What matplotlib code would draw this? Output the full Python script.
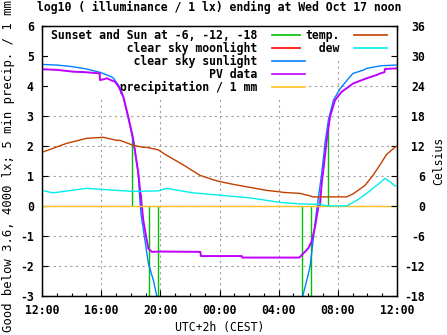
import matplotlib
matplotlib.use("Agg")
import matplotlib.pyplot as plt
from matplotlib.lines import Line2D

plt.rcParams['font.family'] = ['DejaVu Sans Mono']
plt.rcParams['font.weight'] = 'bold'
plt.rcParams['font.size'] = 8.3
plt.rcParams['axes.unicode_minus'] = False

# ---- data (hours after Tue 12:00) ----
x_ticks_h = [0, 4, 8, 12, 16, 20, 24]
x_tick_labels = ["12:00", "16:00", "20:00", "00:00", "04:00", "08:00", "12:00"]
y_left_ticks = [-3, -2, -1, 0, 1, 2, 3, 4, 5, 6]
y_right_ticks = [-18, -12, -6, 0, 6, 12, 18, 24, 30, 36]

# Sunset and Sun at -6, -12, -18 (impulses)
sun_t = [6.09, 6.69, 7.23, 7.84, 17.58, 18.19, 18.80, 19.34]
sun_h = [2.45, 0.40, -4.0, -4.0, -4.0, -4.0, 0.40, 2.60]

# clear sky moonlight (below plotted range, not visible)
moon_t = []
moon_v = []

# clear sky sunlight, evening
sunE_t = [0, 1, 2, 3, 3.9, 4.5, 4.8, 5.2, 5.5, 5.84, 6.17, 6.51, 6.6, 6.7,
          6.96, 7.19, 7.53, 7.76, 8.0]
sunE_v = [4.71, 4.69, 4.64, 4.56, 4.45, 4.34, 4.27, 4.0, 3.63, 2.91, 2.19, 1.08,
          0.3, -0.3, -1.14, -1.91, -2.48, -3.0, -3.5]
# clear sky sunlight, morning
sunM_t = [17.4, 17.63, 17.9, 18.12, 18.28, 18.46, 18.57, 18.91, 19.13, 19.36,
          19.70, 20.15, 20.82, 21.02, 21.72, 21.95, 22.85, 23.06, 24.0]
sunM_v = [-3.5, -3.0, -2.48, -2.03, -1.37, -0.58, -0.14, 1.08, 2.08, 2.86,
          3.52, 3.9, 4.3, 4.41, 4.52, 4.58, 4.66, 4.67, 4.69]

# PV data
pv_t = [0, 1, 2.1, 3.0, 3.9, 3.92, 4.2, 4.4, 4.6, 4.95, 5.2, 5.5, 5.84, 6.17,
        6.51, 6.7, 6.85, 7.08, 7.19, 7.42, 8.0, 10.7, 10.75, 13.5, 13.55, 17.4,
        17.55, 17.99, 18.22, 18.46, 18.68, 18.8, 18.92, 19.02, 19.25, 19.47,
        19.81, 20.26, 21.05, 21.95, 22.63, 22.85, 23.15, 23.19, 24.0]
pv_v = [4.55, 4.53, 4.47, 4.45, 4.41, 4.19, 4.22, 4.25, 4.2, 4.13, 3.95, 3.63,
        2.95, 2.2, 1.1, 0.2, -0.48, -1.14, -1.42, -1.53, -1.52, -1.53, -1.67,
        -1.67, -1.72, -1.72, -1.64, -1.42, -1.2, -0.7, -0.03, 0.1, 0.8, 1.19,
        2.19, 2.97, 3.52, 3.8, 4.08, 4.25, 4.36, 4.41, 4.45, 4.56, 4.58]

# precipitation / 1 mm
precip_t = [0, 24]
precip_v = [0, 0]

# temperature (Celsius)
temp_t = [0.09, 1.67, 3.02, 4.14, 5.05, 5.27, 6.17, 6.85, 7.08, 7.86, 8.43,
          9.55, 10.68, 11.81, 12.93, 14.06, 15.19, 16.1, 16.3, 17.44, 18.12,
          18.3, 20.6, 21.03, 21.84, 22.4, 22.85, 23.3, 23.98]
temp_c = [10.8, 12.5, 13.5, 13.7, 13.1, 13.1, 12.1, 11.7, 11.7, 11.2, 10.1,
          8.2, 6.1, 5.0, 4.3, 3.7, 3.1, 2.8, 2.7, 2.5, 2.0, 1.8, 1.8, 2.4,
          4.1, 6.2, 8.2, 10.3, 12.0]

# dew point (Celsius)
dew_t = [0, 0.74, 3.0, 5.05, 6.17, 7.86, 8.43, 10.23, 11.81, 14.06, 16.09,
         17.44, 18.8, 19.3, 20.6, 21.28, 21.95, 22.63, 23.19, 23.53, 23.87, 24.0]
dew_c = [3.1, 2.6, 3.5, 3.1, 2.9, 3.0, 3.5, 2.6, 2.2, 1.6, 0.7, 0.4, 0.3,
         0.0, 0.0, 1.1, 2.5, 4.1, 5.5, 4.8, 4.0, 4.0]

# ---- colours ----
c_green = '#00c000'
c_red = '#ff0000'
c_blue = '#0080ff'
c_purple = '#c000ff'
c_orange = '#ffc020'
c_brown = '#c04000'
c_cyan = '#00eeee'

W, H = 447, 335
fig = plt.figure(figsize=(W / 100, H / 100), dpi=100)
ax = fig.add_axes([42 / W, 1 - 296 / H, 355 / W, 270.3 / H])
ax.set_xlim(0, 24)
ax.set_ylim(-3, 6)
ax.set_axisbelow(True)

grid_kw = dict(color='#a0a0a0', linestyle=(0, (2, 3)), linewidth=0.8)
ax.grid(True, which='major', **grid_kw)

ax.vlines(sun_t, 0, sun_h, color=c_green, lw=1.0, zorder=2)
ax.plot(moon_t, moon_v, color=c_red, lw=1.0)
ax.plot(sunE_t, sunE_v, color=c_blue, lw=1.0, zorder=2)
ax.plot(sunM_t, sunM_v, color=c_blue, lw=1.0, zorder=2)
ax.plot(pv_t, pv_v, color=c_purple, lw=1.4, zorder=2.1)
ax.plot(precip_t, precip_v, color=c_orange, lw=1.0, zorder=2.2)

ax.set_xticks(x_ticks_h)
ax.set_xticklabels(x_tick_labels)
ax.set_xticks(range(0, 25), minor=True)
ax.set_yticks(y_left_ticks)
ax.set_yticklabels([str(v) for v in y_left_ticks])
ax.tick_params(axis='x', which='major', direction='in', top=True, bottom=True,
               length=4, width=0.8, pad=6)
ax.tick_params(axis='x', which='minor', direction='in', top=True, bottom=True,
               length=2.2, width=0.8)
ax.tick_params(axis='y', which='major', direction='in', left=True, right=False,
               length=4, width=0.8, pad=6)
for s in ax.spines.values():
    s.set_linewidth(1.0)

ax.set_xlabel("UTC+2h (CEST)", va='center')
ax.xaxis.set_label_coords(0.5, (296 - 327) / 270.3)
ax.set_ylabel("Good below 3.6, 4000 lx; 5 min precip. / 1 mm", va='center',
              fontsize=8.8)
ax.yaxis.set_label_coords((9 - 42) / 355, (296 - 166.5) / 270.3)

ax2 = ax.twinx()
ax2.set_ylim(-18, 36)
ax2.plot(temp_t, temp_c, color=c_brown, lw=1.0)
ax2.plot(dew_t, dew_c, color=c_cyan, lw=1.0)
ax2.set_yticks(y_right_ticks)
ax2.set_yticklabels([str(v) for v in y_right_ticks])
ax2.tick_params(axis='y', direction='in', right=True, length=4, width=0.8, pad=20)
for lab in ax2.get_yticklabels():
    lab.set_horizontalalignment('right')
ax2.set_ylabel("Celsius", va='center', rotation=90)
ax2.yaxis.set_label_coords((439 - 42) / 355, 0.5)

fig.text(219.5 / W, 1 - 7 / H,
         "log10 ( illuminance / 1 lx) ending at Wed Oct 17 noon",
         ha='center', va='center')

# legends
leg_kw = dict(loc='upper left', markerfirst=False, frameon=True,
              facecolor='white', edgecolor='none', framealpha=1,
              fancybox=False, borderaxespad=0.15, borderpad=0.3,
              handlelength=2.8, handletextpad=1.3, labelspacing=0.0)

labels1 = ["Sunset and Sun at -6, -12, -18", "clear sky moonlight",
           "clear sky sunlight", "PV data", "precipitation / 1 mm"]
cols1 = [c_green, c_red, c_blue, c_purple, c_orange]
n1 = max(len(s) for s in labels1)
h1 = [Line2D([], [], color=c, lw=1.2) for c in cols1]
leg1 = ax.legend(h1, [s.rjust(n1) for s in labels1],
                 bbox_to_anchor=(4 / 355, 1.0 + 2 / 270.3), **leg_kw)
leg1.set_zorder(1)
ax.add_artist(leg1)

labels2 = ["temp.", "dew"]
cols2 = [c_brown, c_cyan]
n2 = max(len(s) for s in labels2)
h2 = [Line2D([], [], color=c, lw=1.2) for c in cols2]
leg2 = ax.legend(h2, [s.rjust(n2) for s in labels2],
                 bbox_to_anchor=((304 - 42) / 355 - 0.012, 1.0 + 2 / 270.3),
                 **leg_kw)
leg2.set_zorder(1)

fig.savefig("out.png", dpi=100)
